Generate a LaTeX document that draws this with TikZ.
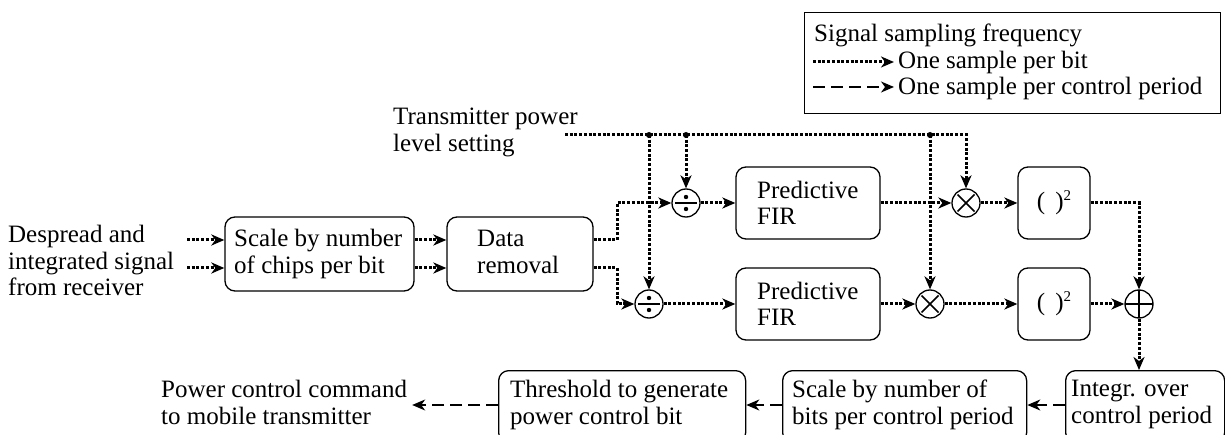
\documentclass[tikz,border=0pt]{standalone}
\usepackage{fontspec}
\setmainfont{Liberation Serif}
\usetikzlibrary{arrows.meta}
\begin{document}
\begin{tikzpicture}[x=1pt,y=-1pt,
  txt/.style={font=\fontsize{25}{26.5}\selectfont, inner sep=0pt, align=left},
  blk/.style={draw, line width=1.3pt, rounded corners=10pt, inner sep=0pt,
    font=\fontsize{25}{26.5}\selectfont},
  circ/.style={draw, circle, line width=1.3pt, minimum size=28pt, inner sep=0pt},
  dotcon/.style={line width=3pt, dash pattern=on 3pt off 1.7pt},
  dotarr/.style={dotcon, -{Stealth[length=13pt,width=11pt,inset=4pt]}},
  dasharr/.style={line width=1.4pt, dash pattern=on 12pt off 6pt,
    -{Stealth[length=13pt,width=11pt,inset=4pt]}},
  junc/.style={circle, fill, inner sep=0pt, minimum size=6pt},
  divsym/.style={circ, path picture={
    \draw[line width=2pt] ([xshift=-11pt]path picture bounding box.center)
      -- ([xshift=11pt]path picture bounding box.center);
    \fill ([yshift=6pt]path picture bounding box.center) circle[radius=2.2pt];
    \fill ([yshift=-6pt]path picture bounding box.center) circle[radius=2.2pt];}},
  mulsym/.style={circ, path picture={
    \draw[line width=1.6pt] ([shift={(-8.5pt,-8.5pt)}]path picture bounding box.center)
      -- ([shift={(8.5pt,8.5pt)}]path picture bounding box.center);
    \draw[line width=1.6pt] ([shift={(-8.5pt,8.5pt)}]path picture bounding box.center)
      -- ([shift={(8.5pt,-8.5pt)}]path picture bounding box.center);}},
  sumsym/.style={circ, path picture={
    \draw[line width=2pt] ([xshift=-14pt]path picture bounding box.center)
      -- ([xshift=14pt]path picture bounding box.center);
    \draw[line width=2pt] ([yshift=-14pt]path picture bounding box.center)
      -- ([yshift=14pt]path picture bounding box.center);}},
]
\useasboundingbox (0,0) rectangle (1225,435);
\clip (0,0) rectangle (1225,435);

% legend
\node[draw, line width=1.3pt, minimum width=416pt, minimum height=101pt,
  inner sep=0pt, anchor=north west] (leg) at (804,12) {};
\node[txt, anchor=base west] (legT) at (814,42) {Signal sampling frequency};
\node[txt, anchor=base west] (legA) at (898,69) {One sample per bit};
\node[txt, anchor=base west] (legB) at (898,95) {One sample per control period};
\coordinate (la) at (813,62);
\coordinate (lb) at (813,87);
\draw[dotarr] (la) -- ([xshift=-4pt]la -| legA.west);
\draw[dasharr] (lb) -- ([xshift=-4pt]lb -| legB.west);

% input side
\node[txt, anchor=north west] (src) at (8,225) {Despread and\\integrated signal\\from receiver};
\node[blk, minimum width=189pt, minimum height=74pt] (scale) at (319.5,254) {};
\node[txt, anchor=west] (scaleT) at (234,254) {Scale by number\\of chips per bit};
\node[blk, minimum width=146pt, minimum height=74pt] (data) at (520,254) {};
\node[txt, anchor=west] (dataT) at (477,252) {Data\\removal};

% power level setting
\node[txt, anchor=north west] (tx) at (393,108) {Transmitter power\\level setting};

% two processing branches
\node[divsym] (divU) at (686,203) {};
\node[divsym] (divL) at (649,304) {};
\node[blk, minimum width=144pt, minimum height=72pt] (predU) at (808,203) {};
\node[txt, anchor=west] (predUT) at (757,203) {Predictive\\FIR};
\node[blk, minimum width=144pt, minimum height=72pt] (predL) at (808,304) {};
\node[txt, anchor=west] (predLT) at (757,304) {Predictive\\FIR};
\node[mulsym] (mulU) at (966,203) {};
\node[mulsym] (mulL) at (930,304) {};
\node[blk, minimum width=72pt, minimum height=72pt] (sqU) at (1054,203)
  {(\hspace{10pt})\raisebox{9pt}{\fontsize{15}{15}\selectfont 2}};
\node[blk, minimum width=72pt, minimum height=72pt] (sqL) at (1054,304)
  {(\hspace{10pt})\raisebox{9pt}{\fontsize{15}{15}\selectfont 2}};
\node[sumsym] (sum) at (1139,304) {};

% control-period blocks
\node[blk, minimum width=159pt, minimum height=72pt, anchor=north west] (intg) at (1065,370) {};
\node[txt, anchor=north west] (intgT) at (1071,380) {Integr. over\\control period};
\node[blk, minimum width=244pt, minimum height=72pt, anchor=north west] (sc2) at (782,370) {};
\node[txt, anchor=north west] (sc2T) at (792,380) {Scale by number of\\bits per control period};
\node[blk, minimum width=247pt, minimum height=72pt, anchor=north west] (thr) at (498,370) {};
\node[txt, anchor=north west] (thrT) at (510,380) {Threshold to generate\\power control bit};
\node[txt, anchor=north west] (outT) at (161,380) {Power control command\\to mobile transmitter};

% input connectors
\coordinate (srcA) at (187,240);
\coordinate (srcB) at (187,268);
\draw[dotarr] (srcA) -- (srcA -| scale.west);
\draw[dotarr] (srcB) -- (srcB -| scale.west);
\draw[dotarr] (srcA -| scale.east) -- (srcA -| data.west);
\draw[dotarr] (srcB -| scale.east) -- (srcB -| data.west);
\coordinate (bendU) at (617,203);
\coordinate (bendL) at (617,304);
\draw[dotarr] (srcA -| data.east) -| (bendU) -- (divU);
\draw[dotarr] (srcB -| data.east) -| (bendL) -- (divL);

% power level distribution
\coordinate (tp) at (565,135);
\draw[dotarr] (tp) -| (mulU);
\draw[dotarr] (tp -| divL) -- (divL);
\draw[dotarr] (tp -| divU) -- (divU);
\draw[dotarr] (tp -| mulL) -- (mulL);
\node[junc] (j1) at (tp -| divL) {};
\node[junc] (j2) at (tp -| divU) {};
\node[junc] (j3) at (tp -| mulL) {};

% branch connectors
\draw[dotarr] (divU) -- (predU);
\draw[dotarr] (predU) -- (mulU);
\draw[dotarr] (mulU) -- (sqU);
\draw[dotarr] (sqU) -| (sum);
\draw[dotarr] (divL) -- (predL);
\draw[dotarr] (predL) -- (mulL);
\draw[dotarr] (mulL) -- (sqL);
\draw[dotarr] (sqL) -- (sum);
\draw[dotarr] (sum) -- (sum |- intg.north);

% control-period connectors
\coordinate (rowB) at (0,405);
\draw[dasharr] (rowB -| intg.west) -- (rowB -| sc2.east);
\draw[dasharr] (rowB -| sc2.west) -- (rowB -| thr.east);
\draw[dasharr] (rowB -| thr.west) -- ([xshift=5pt]rowB -| outT.east);
\end{tikzpicture}
\end{document}
